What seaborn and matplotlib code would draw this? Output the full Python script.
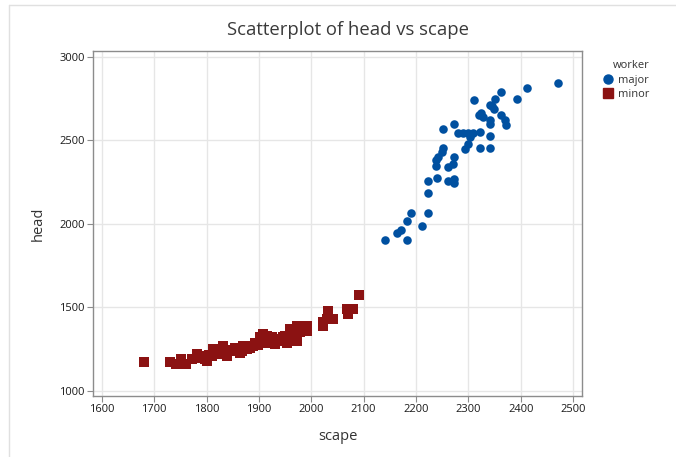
import matplotlib
matplotlib.use("Agg")
import matplotlib.pyplot as plt
import matplotlib.lines as mlines
import seaborn as sns
import pandas as pd

# ---- data ----
major_scape = [2471, 2412, 2392, 2362, 2351, 2345, 2349, 2341, 2311, 2324, 2328, 2320,
               2363, 2370, 2372, 2342, 2342, 2272, 2252, 2281, 2290, 2300, 2309, 2322,
               2303, 2342, 2300, 2293, 2322, 2342, 2252, 2249, 2242, 2239, 2272, 2239,
               2261, 2271, 2222, 2240, 2261, 2272, 2272, 2222, 2190, 2222, 2182, 2211,
               2171, 2163, 2141, 2182]
major_head = [2840, 2810, 2744, 2790, 2746, 2704, 2690, 2712, 2738, 2662, 2640, 2650,
              2650, 2620, 2590, 2620, 2600, 2600, 2570, 2542, 2542, 2545, 2542, 2548,
              2520, 2524, 2480, 2450, 2456, 2456, 2456, 2430, 2400, 2380, 2400, 2344,
              2340, 2356, 2256, 2272, 2256, 2270, 2244, 2184, 2064, 2064, 2014, 1986,
              1966, 1946, 1906, 1906]

minor_scape = [1681, 1730, 1742, 1751, 1760, 1772, 1781, 1791, 1797, 1800, 1813, 1810,
               1822, 1832, 1835, 1838, 1845, 1858, 1864, 1870, 1877, 1883, 1889, 1896,
               1902, 1908, 1915, 1912, 1918, 1924, 1931, 1940, 1950, 1953, 1959, 1966,
               1972, 1972, 1979, 1985, 1991, 1991, 2023, 2031, 2029, 2042, 2023, 2071,
               2080, 2068, 2092, 1786, 1805, 1826, 1850, 1868, 1880, 1893, 1905, 1920,
               1937, 1946, 1962, 1818, 1855, 1899, 1927, 1978]
minor_head = [1175, 1175, 1160, 1190, 1160, 1190, 1220, 1210, 1190, 1180, 1250, 1210,
              1220, 1270, 1230, 1210, 1240, 1250, 1230, 1270, 1250, 1260, 1270, 1280,
              1320, 1340, 1330, 1300, 1290, 1320, 1280, 1310, 1330, 1290, 1370, 1340,
              1390, 1300, 1360, 1380, 1390, 1360, 1410, 1480, 1430, 1430, 1390, 1460,
              1490, 1490, 1574, 1200, 1215, 1235, 1245, 1240, 1265, 1290, 1300, 1310,
              1300, 1320, 1350, 1225, 1255, 1275, 1305, 1350]

workers = ["major", "minor"]
x_ticks = [1600, 1700, 1800, 1900, 2000, 2100, 2200, 2300, 2400, 2500]
y_ticks = [1000, 1500, 2000, 2500, 3000]

df = pd.DataFrame({
    "scape": major_scape + minor_scape,
    "head": major_head + minor_head,
    "worker": ["major"] * len(major_scape) + ["minor"] * len(minor_scape),
})

sns.set_style("white")
plt.rcParams["font.family"] = ["Open Sans", "DejaVu Sans"]

colors = {"major": "#0050A0", "minor": "#8B1212"}
markers = {"major": "o", "minor": "s"}

fig = plt.figure(figsize=(6.76, 4.57), dpi=100)
ax = fig.add_axes([93 / 676, 1 - 396 / 457, (582 - 93) / 676, (396 - 51) / 457])

for w in workers:
    sub = df[df["worker"] == w]
    sns.scatterplot(data=sub, x="scape", y="head", color=colors[w], marker=markers[w],
                    s=38 if w == "major" else 42, linewidth=0, ax=ax, legend=False)

ax.set_xlim(1583, 2517)
ax.set_ylim(970, 3034)
ax.set_xticks(x_ticks)
ax.set_yticks(y_ticks)
ax.grid(True, color="#e6e6e6", linewidth=1.0)
ax.set_axisbelow(True)
for s in ax.spines.values():
    s.set_color("#8c8c8c")
    s.set_linewidth(1.0)
ax.tick_params(axis="both", which="both", direction="out", length=4, width=0.8,
               color="#8c8c8c", labelsize=8, labelcolor="#1a1a1a", pad=2,
               bottom=True, left=True)
ax.set_xlabel("scape", fontsize=10.5, color="#333333", labelpad=10)
ax.set_ylabel("head", fontsize=10.5, color="#333333", labelpad=10)
fig.text(348 / 676, 1 - 30 / 457, "Scatterplot of head vs scape", ha="center", va="center",
         fontsize=13.3, color="#3a3a3a")

# legend
handles = [mlines.Line2D([], [], color=colors[w], marker=markers[w], linestyle="none",
                         markersize=6.5 if w == "major" else 7, label=w) for w in workers]
leg = fig.legend(handles=handles, title="worker", loc="upper left",
                 bbox_to_anchor=(597 / 676, 1 - 56 / 457), frameon=False,
                 fontsize=8, title_fontsize=8, handletextpad=0.3, borderaxespad=0,
                 labelspacing=0.3, handlelength=1.2)
leg._legend_box.align = "right"
for t in leg.get_texts():
    t.set_color("#333333")
leg.get_title().set_color("#333333")

# outer frame of the screenshot
fig.add_artist(mlines.Line2D([9 / 676, 1], [1 - 5 / 457, 1 - 5 / 457], transform=fig.transFigure,
                             color="#e0e0e0", linewidth=1))
fig.add_artist(mlines.Line2D([9 / 676, 9 / 676], [0, 1 - 5 / 457], transform=fig.transFigure,
                             color="#e0e0e0", linewidth=1))

fig.savefig("out.png", dpi=100)
